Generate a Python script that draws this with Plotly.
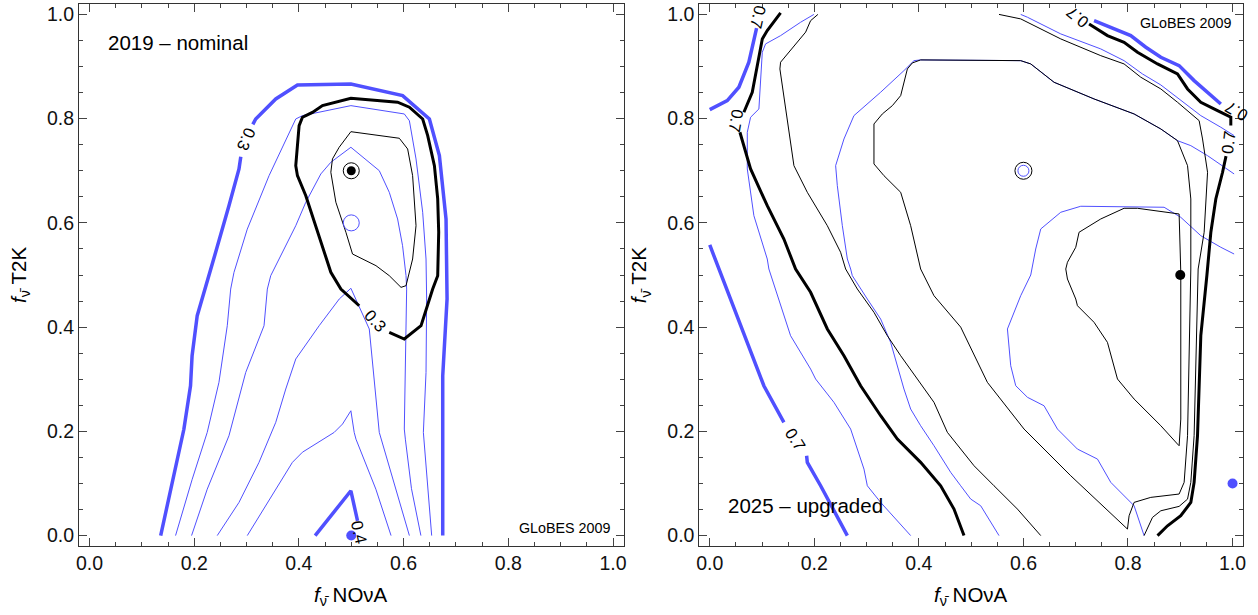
import plotly.graph_objects as go

# ---------------- LEFT PANEL (2019 - nominal) ----------------
# thick blue contour (0.3), None = gap for label
L_blue_thick_x = [0.136, 0.1803, 0.193, 0.196, 0.2058, 0.2153, 0.241, 0.2664, 0.2856, 0.289, None,
                  0.312, 0.3175, 0.3558, 0.3972, 0.4993, 0.5981, 0.6492, 0.6683, 0.681, 0.683, 0.6747, 0.6747]
L_blue_thick_y = [0.0, 0.204, 0.2875, 0.345, 0.422, 0.454, 0.5436, 0.633, 0.7035, 0.727, None,
                  0.789, 0.7994, 0.8378, 0.8647, 0.8666, 0.8442, 0.7994, 0.729, 0.6075, 0.454, 0.3067, 0.0]

L_blue_t1_x = [0.1644, 0.1962, 0.2249, 0.2473, 0.2632, 0.2697, 0.276, 0.3014, 0.343, 0.394, 0.4068, 0.4993,
               0.6013, 0.611, 0.6237, 0.6364, 0.6428, 0.644, 0.6428, 0.6377, 0.6536]
L_blue_t1_y = [0.0, 0.108, 0.198, 0.294, 0.4027, 0.473, 0.505, 0.588, 0.6906, 0.7994, 0.8058, 0.825,
               0.809, 0.796, 0.7227, 0.6204, 0.5307, 0.454, 0.313, 0.198, 0.0]

L_blue_t2_x = [0.195, 0.2249, 0.2664, 0.2984, 0.3334, 0.3397, 0.3462, 0.394, 0.4132, 0.4419, 0.461, 0.4993,
               0.5535, 0.5726, 0.5885, 0.598, 0.6046, 0.6058, 0.6013, 0.6033, 0.615, 0.633]
L_blue_t2_y = [0.0, 0.089, 0.1915, 0.313, 0.4027, 0.473, 0.4987, 0.5946, 0.6396, 0.6939, 0.7163, 0.7451,
               0.7002, 0.6587, 0.6075, 0.5562, 0.4987, 0.473, 0.2044, 0.185, 0.09, 0.0]

L_blue_t3_x = [0.244, 0.2856, 0.3238, 0.3558, 0.3749, 0.394, 0.4387, 0.4771, 0.4993, 0.5089, 0.5344, 0.5535, 0.611]
L_blue_t3_y = [0.0, 0.0637, 0.1405, 0.2173, 0.2812, 0.3388, 0.4027, 0.454, 0.4745, 0.454, 0.3964, 0.198, 0.0]

L_blue_t4_x = [0.3014, 0.3558, 0.3876, 0.4068, 0.4674, 0.4833, 0.4993, 0.5056, 0.509, 0.547, 0.576]
L_blue_t4_y = [0.0, 0.089, 0.1405, 0.16, 0.198, 0.214, 0.2395, 0.198, 0.185, 0.089, 0.0]

L_blue_04_x = [0.431, 0.4993, 0.512]
L_blue_04_y = [0.0, 0.086, 0.028]

L_black_thick_x = [0.5152, 0.4802, 0.461, 0.4354, 0.4132, 0.3972, 0.394, 0.4004, 0.4068, 0.4132, 0.4258, 0.445,
                   0.4993, 0.5885, 0.611, 0.6364, 0.646, 0.6588, 0.6651, 0.667, 0.6651, 0.6555, 0.6333, 0.6013, 0.5726]
L_black_thick_y = [0.441, 0.4731, 0.5052, 0.582, 0.6522, 0.6906, 0.7098, 0.7866, 0.8027, 0.8058, 0.812, 0.825,
                   0.839, 0.8315, 0.822, 0.7994, 0.7674, 0.7098, 0.6459, 0.582, 0.4987, 0.4731, 0.4027, 0.3772, 0.39]

L_black_thin_x = [0.4993, 0.5918, 0.6077, 0.6172, 0.6237, 0.6172, 0.6046, 0.595, 0.5726, 0.5472, 0.5024, 0.4898,
                  0.4706, 0.461, 0.4641, 0.4769, 0.4993]
L_black_thin_y = [0.775, 0.7624, 0.7418, 0.6906, 0.5946, 0.5307, 0.4795, 0.4763, 0.4987, 0.5179, 0.5403, 0.582,
                  0.6396, 0.6971, 0.7227, 0.7451, 0.775]

# ---------------- RIGHT PANEL (2025 - upgraded) ----------------
R_blue_thick_a_x = [0.0, 0.0174, 0.059, 0.1035, 0.1418, None, 0.1853, 0.1866, 0.2121, 0.2632]
R_blue_thick_a_y = [0.5576, 0.5115, 0.4027, 0.2875, 0.2173, None, 0.1532, 0.1405, 0.0956, 0.0]

R_blue_thick_b_x = [0.0, 0.0335, 0.0557, 0.0748, 0.0896]
R_blue_thick_b_y = [0.8173, 0.8346, 0.8603, 0.9083, 0.9735]

R_blue_thick_c_x = [0.7351, 0.7734, 0.8053, 0.8341, 0.8628, 0.8978, 0.9265, 0.9776]
R_blue_thick_c_y = [0.9882, 0.9722, 0.9593, 0.937, 0.9178, 0.9018, 0.873, 0.8282]

R_black_thick_a_x = [0.1355, 0.11, 0.1005, 0.0909, 0.0813, 0.0653, None, 0.0577, 0.0781, 0.11, 0.1418, 0.1642,
                     0.1929, 0.2249, 0.2567, 0.2886, 0.3269, 0.3589, 0.4034, 0.4417, 0.4672, 0.4863]
R_black_thick_a_y = [1.0029, 0.969, 0.953, 0.9018, 0.8507, 0.8123, None, 0.7739, 0.7035, 0.633, 0.5691, 0.5115,
                     0.4668, 0.3964, 0.3451, 0.2875, 0.23, 0.1852, 0.1405, 0.0956, 0.0509, 0.0]

R_black_thick_b_x = [0.7256, 0.7607, 0.7925, 0.8182, 0.8565, 0.8947, 0.9139, 0.9393, 0.9713, 0.9967, 0.9967, None,
                     0.9875, 0.9809, 0.968, 0.9585, 0.951, 0.9393, 0.933, 0.9265, 0.9202, 0.901, 0.8756, 0.8565]
R_black_thick_b_y = [0.9818, 0.9593, 0.9466, 0.9274, 0.905, 0.8858, 0.857, 0.8315, 0.8154, 0.8027, 0.787, None,
                     0.728, 0.6971, 0.6459, 0.582, 0.50, 0.3835, 0.1916, 0.1021, 0.0637, 0.038, 0.0188, 0.0]

R_blue_t_left_x = [0.1992, 0.1738, 0.1355, 0.1068, 0.1005, 0.0972, 0.094, 0.0781, 0.0718, 0.0718, 0.0844, 0.11,
                   0.1131, 0.1546, 0.1929, 0.2025, 0.2375, 0.2695, 0.295, 0.3014, 0.3269, 0.3843]
R_blue_t_left_y = [1.0, 0.985, 0.9593, 0.9434, 0.9274, 0.8633, 0.8186, 0.8027, 0.7739, 0.7035, 0.6138, 0.5307,
                   0.5115, 0.3835, 0.3196, 0.3004, 0.2557, 0.2044, 0.1276, 0.0956, 0.0637, 0.0]

R_black_t_left_x = [0.2069, 0.1929, 0.1834, 0.1355, 0.1342, 0.1483, 0.161, 0.1866, 0.2249, 0.2503, 0.2599, 0.2823,
                    0.3141, 0.3397, 0.3652, 0.3971, 0.4289, 0.4545, 0.4991, 0.5055, 0.5437, 0.5885, 0.6331]
R_black_t_left_y = [1.0, 0.988, 0.966, 0.9083, 0.8954, 0.7994, 0.7098, 0.6587, 0.5946, 0.5436, 0.5115, 0.4731,
                    0.4284, 0.3835, 0.3451, 0.3004, 0.2557, 0.1981, 0.1405, 0.134, 0.0956, 0.0509, 0.0]

R_blue_t_mid_x = [1.003, 0.9522, 0.9202, 0.8947, 0.8628, 0.8117, 0.7351, 0.6586, 0.614, 0.5948, 0.4034, 0.3907,
                  0.3715, 0.3269, 0.2758, 0.2567, 0.2408, 0.244, 0.2536, 0.2632, 0.2695, 0.2727, 0.3014, 0.3269,
                  0.346, 0.3589, 0.3715, 0.3843, 0.4034, 0.4289, 0.4609, 0.48, 0.4991, 0.5183, 0.5533]
R_blue_t_mid_y = [0.6939, 0.729, 0.7482, 0.7578, 0.7802, 0.809, 0.8378, 0.8698, 0.905, 0.9113, 0.9127, 0.9113,
                  0.8922, 0.8507, 0.8058, 0.761, 0.7098, 0.6714, 0.5946, 0.5307, 0.5115, 0.4987, 0.4539, 0.4155,
                  0.3708, 0.3259, 0.2812, 0.2428, 0.2108, 0.1724, 0.1213, 0.0956, 0.0701, 0.0572, 0.0]

R_blue_t_inner_x = [1.003, 0.9776, 0.9393, 0.901, 0.8691, 0.7097, 0.6714, 0.6331, 0.6235, 0.614, 0.5948, 0.5694,
                    0.5757, 0.5853, 0.6077, 0.6394, 0.6651, 0.7033, 0.7416, 0.7671, 0.8117, 0.8308]
R_blue_t_inner_y = [0.5403, 0.5532, 0.5754, 0.6107, 0.63, 0.6319, 0.6204, 0.5883, 0.5499, 0.5, 0.4603, 0.3964,
                    0.3259, 0.2875, 0.2653, 0.2491, 0.2044, 0.166, 0.1468, 0.1021, 0.0572, 0.0]

R_blue_t_upper_x = [0.5948, 0.6077, 0.6714, 0.7479, 0.7925, 0.8053, 0.8277, 0.8628, 0.901, 0.9393, 0.9776, 1.003]
R_blue_t_upper_y = [1.0, 0.9946, 0.9626, 0.9338, 0.9113, 0.9018, 0.8858, 0.8647, 0.8346, 0.8058, 0.7835, 0.7674]

R_black_t_big_x = [0.799, 0.6905, 0.6012, 0.5311, 0.48, 0.4289, 0.4034, 0.4002, 0.3843, 0.3652, 0.3332, 0.3141,
                   0.3141, 0.3301, 0.3493, 0.3652, 0.378, 0.3875, 0.4034, 0.5948, 0.614, 0.6586, 0.7351, 0.8117,
                   0.8628, 0.8947, 0.9139, 0.9202, 0.9202, 0.9139, 0.9074, 0.8978, 0.8436, 0.8117, 0.8021, 0.799]
R_black_t_big_y = [0.0125, 0.1148, 0.2044, 0.294, 0.40, 0.4603, 0.5115, 0.5244, 0.5946, 0.6587, 0.6906, 0.7131,
                   0.7898, 0.809, 0.825, 0.8442, 0.8954, 0.9069, 0.9127, 0.9113, 0.905, 0.8698, 0.8378, 0.809,
                   0.7802, 0.7578, 0.7098, 0.6459, 0.5115, 0.1916, 0.1021, 0.0797, 0.0733, 0.0637, 0.038, 0.0125]

R_black_t_outer_x = [0.5533, 0.5948, 0.6714, 0.7479, 0.7925, 0.8053, 0.8245, 0.8628, 0.8947, 0.9361, 0.9426, 0.9522,
                     0.9457, 0.9342, 0.9265, 0.9202, 0.9139, 0.8978, 0.8628, 0.8469, 0.8341, 0.8308]
R_black_t_outer_y = [1.0, 0.9914, 0.953, 0.9209, 0.905, 0.8954, 0.8795, 0.857, 0.8315, 0.7962, 0.761, 0.6971,
                     0.582, 0.5115, 0.1916, 0.1021, 0.07, 0.056, 0.0476, 0.0349, 0.006, 0.0]

R_black_t_inner_x = [0.681, 0.6842, 0.7001, 0.7064, 0.7479, 0.7925, 0.8182, 0.8978, 0.901, 0.901, 0.8978, 0.8947,
                     0.8628, 0.8117, 0.7799, 0.7607, 0.7351, 0.7033, 0.7001, 0.6842, 0.681]
R_black_t_inner_y = [0.5115, 0.5244, 0.5532, 0.582, 0.6075, 0.628, 0.628, 0.6171, 0.5052, 0.2236, 0.1724, 0.1756,
                     0.2108, 0.262, 0.3004, 0.3708, 0.4092, 0.4411, 0.4539, 0.4923, 0.5115]

# markers
L_best_black = (0.5, 0.7)
L_open_blue = (0.5, 0.6)
L_dot_blue = (0.5, 0.0)
R_ring = (0.6, 0.7)
R_dot_black = (0.9, 0.5)
R_dot_blue = (1.0, 0.1)

BLUE = "#5050ff"
BLACK = "#000000"
FONT = "Liberation Sans, Arial, sans-serif"
TICK_SIZE = 19.5
TEXT_SIZE = 20.5
LABEL_SIZE = 16.5

fig = go.Figure()


def line(xs, ys, color, width, ax):
    fig.add_trace(go.Scatter(x=xs, y=ys, mode="lines", line=dict(color=color, width=width),
                             xaxis="x" if ax == 1 else "x2", yaxis="y" if ax == 1 else "y2",
                             hoverinfo="skip", showlegend=False, connectgaps=False))


def marker(pt, ax, symbol, size, color, lw=1, lc=None):
    fig.add_trace(go.Scatter(x=[pt[0]], y=[pt[1]], mode="markers",
                             marker=dict(symbol=symbol, size=size, color=color,
                                         line=dict(width=lw, color=lc if lc else color)),
                             xaxis="x" if ax == 1 else "x2", yaxis="y" if ax == 1 else "y2",
                             hoverinfo="skip", showlegend=False, cliponaxis=False))


# left panel
for xs, ys in [(L_blue_t1_x, L_blue_t1_y), (L_blue_t2_x, L_blue_t2_y), (L_blue_t3_x, L_blue_t3_y),
               (L_blue_t4_x, L_blue_t4_y)]:
    line(xs, ys, BLUE, 1, 1)
line(L_blue_thick_x, L_blue_thick_y, BLUE, 3.5, 1)
line(L_blue_04_x, L_blue_04_y, BLUE, 3.5, 1)
line(L_black_thin_x, L_black_thin_y, BLACK, 1, 1)
line(L_black_thick_x, L_black_thick_y, BLACK, 3, 1)

# right panel
for xs, ys in [(R_blue_t_left_x, R_blue_t_left_y), (R_blue_t_mid_x, R_blue_t_mid_y),
               (R_blue_t_inner_x, R_blue_t_inner_y), (R_blue_t_upper_x, R_blue_t_upper_y)]:
    line(xs, ys, BLUE, 1, 2)
for xs, ys in [(R_black_t_left_x, R_black_t_left_y), (R_black_t_big_x, R_black_t_big_y),
               (R_black_t_outer_x, R_black_t_outer_y), (R_black_t_inner_x, R_black_t_inner_y)]:
    line(xs, ys, BLACK, 1, 2)
for xs, ys in [(R_blue_thick_a_x, R_blue_thick_a_y), (R_blue_thick_b_x, R_blue_thick_b_y),
               (R_blue_thick_c_x, R_blue_thick_c_y)]:
    line(xs, ys, BLUE, 3.5, 2)
for xs, ys in [(R_black_thick_a_x, R_black_thick_a_y), (R_black_thick_b_x, R_black_thick_b_y)]:
    line(xs, ys, BLACK, 3, 2)

# markers left
marker(L_best_black, 1, "circle-open", 16, BLACK, 1)
marker(L_best_black, 1, "circle", 9, BLACK, 0)
marker(L_open_blue, 1, "circle-open", 16, BLUE, 1)
marker(L_dot_blue, 1, "circle", 10, BLUE, 0)
# markers right
marker(R_ring, 2, "circle-open", 17, BLACK, 1)
marker(R_ring, 2, "circle-open", 11, BLUE, 1)
marker(R_dot_black, 2, "circle", 10, BLACK, 0)
marker(R_dot_blue, 2, "circle", 10, BLUE, 0)

axis_common = dict(range=[-0.02, 1.02], showline=True, mirror="allticks", linecolor="#333", linewidth=1,
                   ticks="inside", ticklen=8, tickwidth=1, tickcolor="#444", dtick=0.2, tick0=0,
                   tickformat=".1f", showgrid=False, zeroline=False,
                   tickfont=dict(family=FONT, size=TICK_SIZE, color="#111"),
                   minor=dict(dtick=0.05, tick0=0, ticks="inside", ticklen=4, tickcolor="#444", showgrid=False))

fig.update_layout(
    width=1258, height=615,
    margin=dict(l=79, r=15, t=4, b=69),
    paper_bgcolor="white", plot_bgcolor="white",
    xaxis=dict(domain=[0, 0.4678], anchor="y", **axis_common),
    yaxis=dict(domain=[0, 1], anchor="x", **axis_common),
    xaxis2=dict(domain=[0.5329, 1], anchor="y2", **axis_common),
    yaxis2=dict(domain=[0, 1], anchor="x2", **axis_common),
    showlegend=False,
)

ann = []


def label(text, x, y, ax, angle=0, size=LABEL_SIZE, xanchor="center", yanchor="middle"):
    ann.append(dict(text=text, x=x, y=y, xref="x" if ax == 1 else "x2", yref="y" if ax == 1 else "y2",
                    showarrow=False, textangle=angle, xanchor=xanchor, yanchor=yanchor,
                    font=dict(family=FONT, size=size, color="black")))


# contour labels
label("0.3", 0.3003, 0.7597, 1, 113)
label("0.3", 0.547, 0.412, 1, 47)
label("0.4", 0.5152, 0.007, 1, 77)
label("0.7", 0.1636, 0.185, 2, 58)
label("0.7", 0.05, 0.795, 2, 100)
label("0.7", 0.093, 0.995, 2, 103)
label("0.7", 0.7033, 0.9946, 2, -141)
label("0.7", 1.0063, 0.8135, 2, -150)
label("0.7", 0.9923, 0.7547, 2, -83)

# panel texts
label("2019 – nominal", 0.031, 0.947, 1, 0, TEXT_SIZE, "left")
label("GLoBES 2009", 0.998, 0.014, 1, 0, 14.3, "right")
label("GLoBES 2009", 1.0, 0.984, 2, 0, 14.3, "right")
label("2025 – upgraded", 0.032, 0.057, 2, 0, TEXT_SIZE, "left")

# axis titles
xt = "<i>f</i><sub>ν\u0304</sub> NOνA"
yt = "<i>f</i><sub>ν\u0304</sub> T2K"
for xr in ["x", "x2"]:
    ann.append(dict(text=xt, x=0.5, xref=xr, y=-0.092, yref="paper", showarrow=False,
                    xanchor="center", yanchor="middle", font=dict(family=FONT, size=TEXT_SIZE, color="black")))
ann.append(dict(text=yt, x=-0.0507, xref="paper", y=0.5, yref="y", showarrow=False, textangle=-90,
                xanchor="center", yanchor="middle", font=dict(family=FONT, size=TEXT_SIZE, color="black")))
ann.append(dict(text=yt, x=0.4822, xref="paper", y=0.5, yref="y2", showarrow=False, textangle=-90,
                xanchor="center", yanchor="middle", font=dict(family=FONT, size=TEXT_SIZE, color="black")))

fig.update_layout(annotations=ann)
fig.write_html("out.html")
